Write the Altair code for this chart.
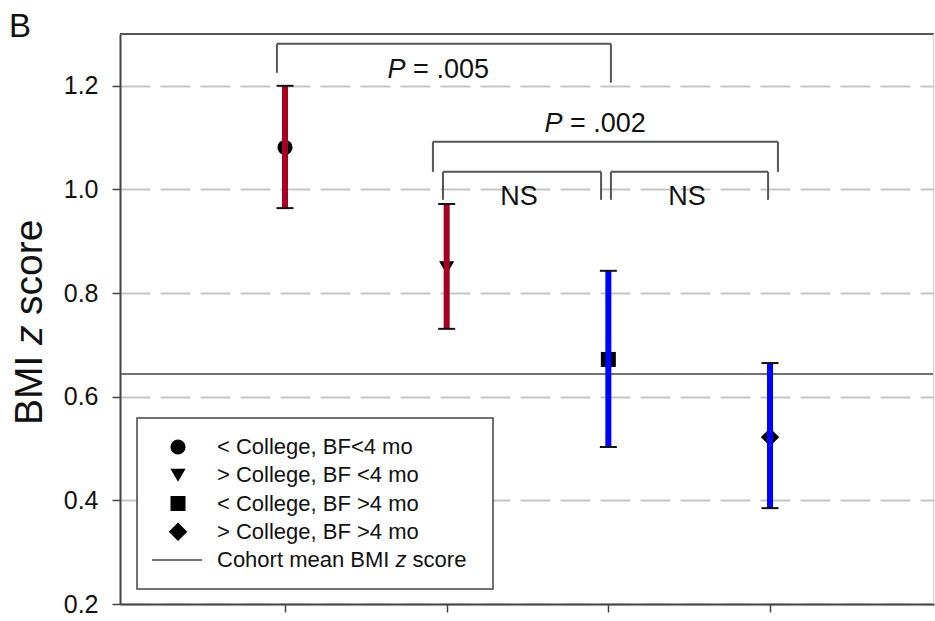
import altair as alt
import pandas as pd

FONT = "Liberation Sans"

# ---- data -------------------------------------------------------------
groups = ["< College, BF<4 mo", "> College, BF <4 mo", "< College, BF >4 mo", "> College, BF >4 mo"]
group_pos = [1, 2, 3, 4]
means = [1.081, 0.849, 0.672, 0.522]
ci_low = [0.964, 0.731, 0.503, 0.385]
ci_high = [1.200, 0.972, 0.843, 0.665]
cohort_mean = 0.644

# comparison brackets: left end, right end, top, left-leg bottom, right-leg bottom
br_left = [0.95, 1.915, 1.977, 3.016]
br_right = [3.016, 4.049, 2.955, 3.988]
br_top = [1.281, 1.092, 1.034, 1.034]
br_left_end = [1.225, 1.034, 0.980, 0.980]
br_right_end = [1.206, 1.034, 0.980, 0.980]

# p-value labels ("P" italic, remainder upright): split point x and baseline y
p_values = ["= .005", "= .002"]
p_x = [1.746, 2.716]
p_y = [1.215, 1.111]
ns_x = [2.447, 3.487]
ns_y = [0.970, 0.970]

y_ticks = [0.2, 0.4, 0.6, 0.8, 1.0, 1.2]

# ---- styling per group --------------------------------------------------
shape_range = ["circle", "triangle-down", "square", "diamond"]
size_range = [230, 230, 225, 340]
color_range = ["#A50021", "#A50021", "#0000FF", "#0000FF"]
shape_scale = alt.Scale(domain=groups, range=shape_range)
size_scale = alt.Scale(type="ordinal", domain=groups, range=size_range)
color_scale = alt.Scale(domain=groups, range=color_range)

# ---- tables -----------------------------------------------------------
pts = pd.DataFrame({"group": groups, "x": group_pos, "mean": means, "lo": ci_low, "hi": ci_high})
caps = pd.concat([pts[["x"]].assign(y=pts["lo"]), pts[["x"]].assign(y=pts["hi"])])

seg_rows = []
for l, r, t, le, re in zip(br_left, br_right, br_top, br_left_end, br_right_end):
    seg_rows.append({"x": l, "x2": r, "y": t, "y2": t})
    seg_rows.append({"x": l, "x2": l, "y": t, "y2": le})
    seg_rows.append({"x": r, "x2": r, "y": t, "y2": re})
segs = pd.DataFrame(seg_rows)
ptxt = pd.DataFrame({"x": p_x, "y": p_y, "rest": p_values})
nstxt = pd.DataFrame({"x": ns_x, "y": ns_y, "t": ["NS"] * len(ns_x)})
cohort = pd.DataFrame({"y": [cohort_mean]})

W, H = 814, 570
xs = alt.Scale(domain=[-0.0206, 5.0143], nice=False, zero=False)
ys = alt.Scale(domain=[0.2, 1.3], nice=False, zero=False)

X = alt.X("x:Q", scale=xs, axis=alt.Axis(values=group_pos, labels=False, title=None, grid=False,
                                         tickSize=8, tickColor="#444", tickWidth=1.5,
                                         domainColor="#444", domainWidth=2))
Y_axis = alt.Axis(values=y_ticks, format=".1f", title=None, tickSize=8, tickColor="#444",
                  tickWidth=1.5, domainColor="#444", domainWidth=2, labelFontSize=25,
                  labelFont=FONT, labelColor="#111", labelPadding=14,
                  grid=True, gridColor="#c6c6c6", gridDash=[30, 10], gridWidth=2)

base_pts = alt.Chart(pts)

points = base_pts.mark_point(filled=True, opacity=1, color="#000").encode(
    x=X,
    y=alt.Y("mean:Q", scale=ys, axis=Y_axis),
    shape=alt.Shape("group:N", scale=shape_scale, legend=None),
    size=alt.Size("group:N", scale=size_scale, legend=None),
)
bars = base_pts.mark_rule(strokeWidth=6).encode(
    x=alt.X("x:Q", scale=xs),
    y=alt.Y("lo:Q", scale=ys),
    y2="hi:Q",
    color=alt.Color("group:N", scale=color_scale, legend=None),
)
cap_marks = alt.Chart(caps).mark_tick(orient="horizontal", size=17, thickness=2, color="#111",
                                      opacity=1).encode(
    x=alt.X("x:Q", scale=xs), y=alt.Y("y:Q", scale=ys))
cohort_line = alt.Chart(cohort).mark_rule(color="#444", strokeWidth=1.5).encode(
    y=alt.Y("y:Q", scale=ys))
brackets = alt.Chart(segs).mark_rule(color="#555", strokeWidth=2).encode(
    x=alt.X("x:Q", scale=xs), x2="x2:Q", y=alt.Y("y:Q", scale=ys), y2="y2:Q")
p_italic = alt.Chart(ptxt).mark_text(text="P", fontStyle="italic", fontSize=27, font=FONT,
                                      align="right", baseline="alphabetic", color="#111").encode(
    x=alt.X("x:Q", scale=xs), y=alt.Y("y:Q", scale=ys))
# a space's advance (0.278 em) separates "P" from the rest
p_rest = alt.Chart(ptxt).mark_text(fontSize=27, font=FONT, align="left", baseline="alphabetic",
                                    color="#111", dx=7.5).encode(
    x=alt.X("x:Q", scale=xs), y=alt.Y("y:Q", scale=ys), text="rest:N")
ns_marks = alt.Chart(nstxt).mark_text(fontSize=27, font=FONT, align="center",
                                       baseline="alphabetic", color="#111").encode(
    x=alt.X("x:Q", scale=xs), y=alt.Y("y:Q", scale=ys), text="t:N")

# top and right frame edges
frame_top = alt.Chart(cohort).mark_rule(color="#555", strokeWidth=2).encode(
    x=alt.value(0), x2=alt.value(W), y=alt.value(0))
frame_right = alt.Chart(cohort).mark_rule(color="#cfcfcf", strokeWidth=1).encode(
    x=alt.value(W - 0.5), y=alt.value(0), y2=alt.value(H))

# panel letter and rotated axis title with italic z
panel = alt.Chart(cohort).mark_text(text="B", fontSize=33, font=FONT, align="left",
                                    baseline="alphabetic", color="#111").encode(
    x=alt.value(-111), y=alt.value(3))
title_parts = [("BMI", "normal", 391), ("z", "italic", 311), ("score", "normal", 281)]
title_marks = [
    alt.Chart(cohort).mark_text(text=t, fontSize=39, font=FONT, fontStyle=st, angle=270,
                                align="left", baseline="alphabetic", color="#111").encode(
        x=alt.value(-78), y=alt.value(yy))
    for t, st, yy in title_parts
]

main = alt.layer(cohort_line, points, bars, cap_marks, brackets, p_italic, p_rest, ns_marks,
                 frame_top, frame_right, panel, *title_marks)

# ---- legend box -------------------------------------------------------
leg = pd.DataFrame({"row": [0, 1, 2, 3], "group": groups})
leg_y = alt.Scale(domain=[0, 4], range=[413, 526])
box = alt.Chart(cohort).mark_rect(fill="white", stroke="#444", strokeWidth=1.5).encode(
    x=alt.value(17), x2=alt.value(373), y=alt.value(384), y2=alt.value(555))
leg_sym = alt.Chart(leg).mark_point(filled=True, opacity=1, color="#000").encode(
    x=alt.value(58), y=alt.Y("row:Q", scale=leg_y, axis=None),
    shape=alt.Shape("group:N", scale=shape_scale, legend=None),
    size=alt.Size("group:N", scale=size_scale, legend=None))
leg_txt = alt.Chart(leg).mark_text(fontSize=22, font=FONT, align="left", baseline="middle",
                                    color="#111").encode(
    x=alt.value(97), y=alt.Y("row:Q", scale=leg_y, axis=None), text="group:N")
last = pd.DataFrame({"row": [4]})
leg_line = alt.Chart(last).mark_rule(color="#444", strokeWidth=1.5).encode(
    x=alt.value(32), x2=alt.value(82), y=alt.Y("row:Q", scale=leg_y, axis=None))
cohort_label = [("Cohort mean BMI", "normal", 97), ("z", "italic", 275.5),
                ("score", "normal", 292.6)]
leg_last = [
    alt.Chart(last).mark_text(text=t, fontSize=22, font=FONT, fontStyle=st, align="left",
                              baseline="middle", color="#111").encode(
        x=alt.value(xx), y=alt.Y("row:Q", scale=leg_y, axis=None))
    for t, st, xx in cohort_label
]
legend = alt.layer(box, leg_sym, leg_txt, leg_line, *leg_last)

chart = alt.layer(main, legend).resolve_scale(
    x="independent", y="independent", shape="independent", size="independent"
).properties(
    width=W, height=H, autosize="none",
    padding={"left": 120, "top": 34, "right": 1, "bottom": 17},
    background="white",
).configure_view(stroke=None)

chart.save("out.html", embed_options={"renderer": "svg", "actions": False})
